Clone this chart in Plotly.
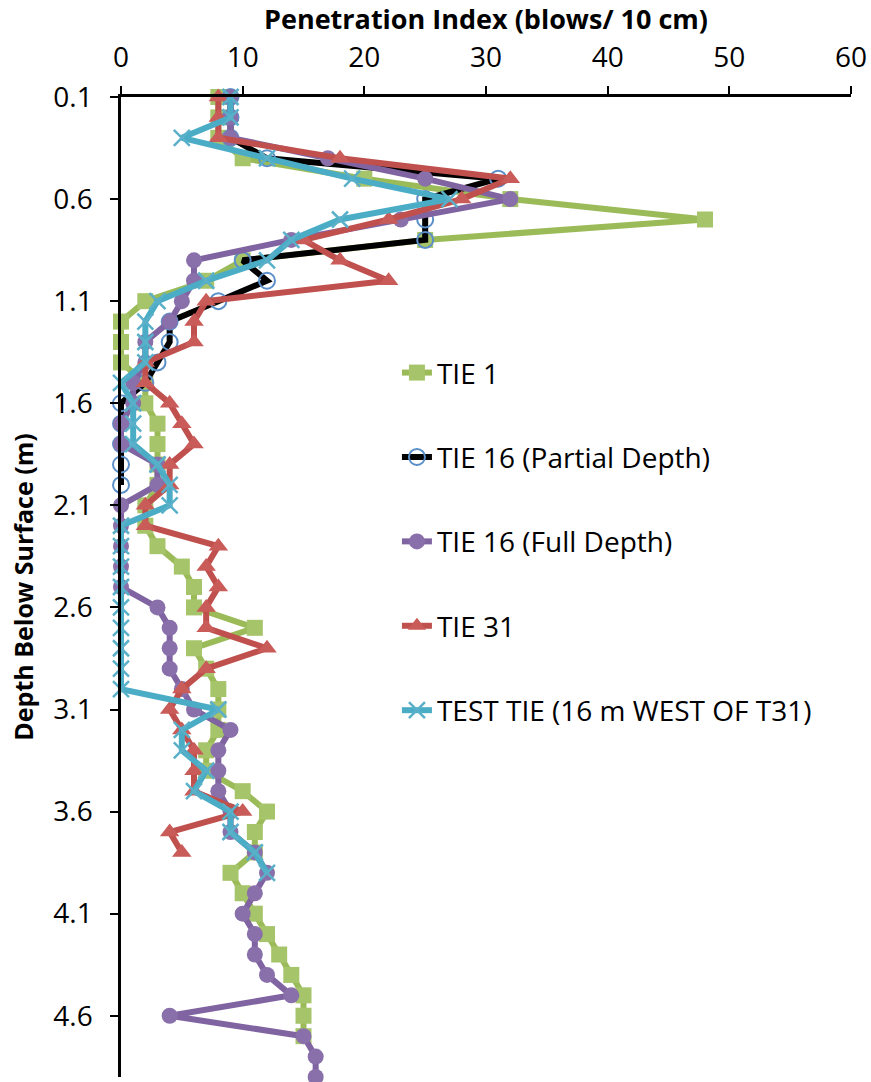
import plotly.graph_objects as go

# Penetration index profiles (blows per 10 cm) against depth below surface (m)
depth = [0.1, 0.2, 0.3, 0.4, 0.5, 0.6, 0.7, 0.8, 0.9, 1.0,
         1.1, 1.2, 1.3, 1.4, 1.5, 1.6, 1.7, 1.8, 1.9, 2.0,
         2.1, 2.2, 2.3, 2.4, 2.5, 2.6, 2.7, 2.8, 2.9, 3.0,
         3.1, 3.2, 3.3, 3.4, 3.5, 3.6, 3.7, 3.8, 3.9, 4.0,
         4.1, 4.2, 4.3, 4.4, 4.5, 4.6, 4.7, 4.8, 4.9]

tie_1 = [8, 8, 8, 10, 20, 32, 48, 25, 10, 7,
         2, 0, 0, 0, 2, 2, 3, 3, 3, 3,
         2, 2, 3, 5, 6, 6, 11, 6, 7, 8,
         8, 8, 7, 7, 10, 12, 11, 11, 9, 10,
         11, 12, 13, 14, 15, 15, 15]

tie_16_partial = [9, 9, 9, 12, 31, 25, 25, 25, 10, 12,
                  8, 4, 4, 3, 2, 0, 0, 0, 0, 0]

tie_16_full = [9, 9, 9, 17, 25, 32, 23, 14, 6, 6,
               5, 4, 2, 2, 1, 1, 0, 0, 3, 3,
               0, 0, 0, 0, 0, 3, 4, 4, 4, 5,
               6, 9, 8, 8, 8, 9, 9, 11, 12, 11,
               10, 11, 11, 12, 14, 4, 15, 16, 16]

tie_31 = [8, 8, 8, 18, 32, 28, 22, 15, 18, 22,
          7, 6, 6, 2, 2, 4, 5, 6, 4, 4,
          2, 2, 8, 7, 8, 7, 7, 12, 7, 5,
          4, 5, 6, 6, 6, 10, 4, 5]

test_tie = [9, 9, 5, 12, 19, 27, 18, 14, 12, 7,
            3, 2, 2, 2, 0, 1, 1, 1, 3, 4,
            4, 0, 0, 0, 0, 0, 0, 0, 0, 0,
            8, 5, 5, 7, 6, 9, 9, 11, 12]

x_ticks = [0, 10, 20, 30, 40, 50, 60]
y_ticks = [0.1, 0.6, 1.1, 1.6, 2.1, 2.6, 3.1, 3.6, 4.1, 4.6]

FONT = "Open Sans, DejaVu Sans, sans-serif"

series = [
    dict(name="TIE 1", x=tie_1, line="#9BBB59",
         marker=dict(symbol="square", size=16, color="#A6C46A")),
    dict(name="TIE 16 (Partial Depth)", x=tie_16_partial, line="#000000",
         marker=dict(symbol="circle-open", size=16, color="#5B8FC9",
                     line=dict(width=2, color="#5B8FC9"))),
    dict(name="TIE 16 (Full Depth)", x=tie_16_full, line="#8064A2",
         marker=dict(symbol="circle", size=16, color="#8A70AB")),
    dict(name="TIE 31", x=tie_31, line="#C0504D",
         marker=dict(symbol="triangle-up", size=17, color="#C95B58")),
    dict(name="TEST TIE (16 m WEST OF T31)", x=test_tie, line="#4BACC6",
         marker=dict(symbol="x-thin", size=16, color="#4BACC6",
                     line=dict(width=2.5, color="#5AB0C8"))),
]

fig = go.Figure()
for i, s in enumerate(series):
    fig.add_trace(go.Scatter(
        x=s["x"], y=depth[:len(s["x"])],
        mode="lines+markers",
        name=s["name"],
        legendgroup=str(i),
        line=dict(color=s["line"], width=6),
        marker=s["marker"],
        cliponaxis=False,
    ))

fig.update_layout(
    width=871, height=1082,
    margin=dict(l=121, r=20, t=97, b=5),
    paper_bgcolor="white", plot_bgcolor="white",
    font=dict(family=FONT, size=28, color="black"),
    showlegend=True,
    legend=dict(x=0.378, y=0.744, xanchor="left", yanchor="top",
                bgcolor="rgba(0,0,0,0)", tracegroupgap=45,
                font=dict(family=FONT, size=28, color="black")),
    xaxis=dict(
        side="top", range=[0, 60], tickvals=x_ticks,
        showline=True, linecolor="black", linewidth=2.5,
        ticks="outside", ticklen=8, tickwidth=2, tickcolor="black",
        showgrid=False, zeroline=False, ticklabelstandoff=8,
        tickfont=dict(family=FONT, size=28),
        title=dict(text="<b>Penetration Index (blows/ 10 cm)</b>",
                   font=dict(family=FONT, size=27), standoff=4),
    ),
    yaxis=dict(
        range=[4.9, 0.1], tickvals=y_ticks, tickformat=".1f",
        showline=True, linecolor="black", linewidth=2.5,
        ticks="outside", ticklen=8, tickwidth=2, tickcolor="black",
        showgrid=False, zeroline=False, ticklabelstandoff=12,
        tickfont=dict(family=FONT, size=28),
        title=dict(text="<b>Depth Below Surface (m)</b>",
                   font=dict(family=FONT, size=25), standoff=13),
    ),
)

fig.write_html("out.html")
